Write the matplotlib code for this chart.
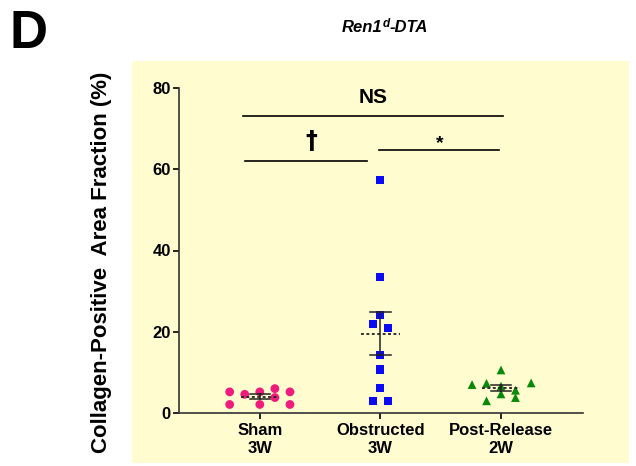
import numpy as np
import matplotlib
matplotlib.use("Agg")
import matplotlib.pyplot as plt
from matplotlib.patches import Rectangle

plt.rcParams["font.family"] = ["Liberation Sans", "DejaVu Sans"]
plt.rcParams["font.weight"] = "bold"

# Data (collagen-positive area fraction, %)
groups = ["Sham\n3W", "Obstructed\n3W", "Post-Release\n2W"]
sham = [5.2, 2.1, 4.6, 5.2, 2.1, 6.0, 3.8, 5.2, 2.1]
sham_dx = [-0.25, -0.25, -0.125, 0, 0, 0.125, 0.125, 0.25, 0.25]
obstructed = [57.4, 33.5, 24.2, 21.8, 21.0, 14.2, 10.7, 6.1, 2.9, 2.9]
obstructed_dx = [0, 0, 0, -0.06, 0.06, 0, 0, 0, -0.06, 0.06]
post_release = [7.0, 7.3, 10.6, 6.6, 4.7, 3.0, 5.6, 3.8, 7.4]
post_release_dx = [-0.24, -0.12, 0, 0, 0, -0.12, 0.12, 0.12, 0.25]

# significance brackets: (x0, x1, y, label, label_x, label_y)
brackets = [(-0.14, 2.02, 73.1, "NS", 0.94, 77.6),
            (-0.12, 0.89, 62.1, "\u2020", 0.43, 66.9),
            (0.99, 1.98, 64.8, "*", 1.49, 66.3)]

fig = plt.figure(figsize=(6.36, 4.66), dpi=100)

# light yellow panel behind the plot
fig.patches.append(Rectangle((132 / 636, 1 - 463 / 466), (629 - 132) / 636, (463 - 61) / 466,
                             transform=fig.transFigure, facecolor="#FFFDCF",
                             edgecolor="none", zorder=-5))

ax = fig.add_axes([179 / 636, 1 - 413 / 466, (583 - 179) / 636, (413 - 88) / 466])
ax.set_facecolor("none")
ax.set_zorder(2)

series = [
    (sham, sham_dx, "o", "#EE1C7C", 40),
    (obstructed, obstructed_dx, "s", "#0A0AF5", 34),
    (post_release, post_release_dx, "^", "#0A880A", 40),
]
for i, (vals, dx, marker, color, size) in enumerate(series):
    vals = np.array(vals)
    ax.scatter(i + np.array(dx), vals, marker=marker, s=size, color=color,
               edgecolors="none", zorder=3, clip_on=False)
    mean = vals.mean()
    sem = vals.std(ddof=1) / np.sqrt(len(vals))
    ax.plot([i - 0.16, i + 0.16], [mean, mean], color="#222222", lw=1.3,
            ls=(0, (1.6, 1.4)), zorder=4)
    ax.plot([i, i], [mean - sem, mean + sem], color="#222222", lw=1.1, zorder=4)
    for y in (mean - sem, mean + sem):
        ax.plot([i - 0.085, i + 0.085], [y, y], color="#222222", lw=1.1, zorder=4)

for x0, x1, y, label, lx, ly in brackets:
    ax.plot([x0, x1], [y, y], color="black", lw=1.2, clip_on=False)
    if label == "\u2020":
        ax.text(lx, ly, label, ha="center", va="center", fontsize=17, fontweight="bold",
                family=["DejaVu Sans"])
    else:
        ax.text(lx, ly, label, ha="center", va="center",
                fontsize=15 if label == "NS" else 14, fontweight="bold")

ax.set_xlim(-0.67, 2.68)
ax.set_ylim(0, 80)
ax.set_yticks([0, 20, 40, 60, 80])
ax.set_xticks(range(len(groups)))
ax.set_xticklabels(groups, fontsize=12, fontweight="bold", linespacing=1.25)
ax.tick_params(axis="both", direction="out", length=4, width=1.2, labelsize=12, pad=2)
ax.tick_params(axis="x", pad=3)
for lab in ax.get_yticklabels():
    lab.set_fontweight("bold")
for side in ("top", "right"):
    ax.spines[side].set_visible(False)
for side in ("left", "bottom"):
    ax.spines[side].set_linewidth(1.2)
    ax.spines[side].set_color("#333333")

ax.set_ylabel("Collagen-Positive  Area Fraction (%)", fontsize=16, fontweight="bold")
ax.yaxis.set_label_coords(-0.166, 0.465)

# panel letter and title
fig.text(29 / 636, 1 - 34 / 466, "D", fontsize=38, fontweight="bold", ha="center", va="center")

renderer = fig.canvas.get_renderer()
parts = [("Ren1", 12, 0), ("d", 8.5, 5), ("-DTA", 12, 0)]
x = 342 / 636
y = 1 - 32 / 466
for txt, size, raise_px in parts:
    t = fig.text(x, y + raise_px / 466, txt, fontsize=size, fontweight="bold",
                 style="italic", ha="left", va="baseline")
    bb = t.get_window_extent(renderer)
    x += bb.width / 636

fig.savefig("out.png", dpi=100)
